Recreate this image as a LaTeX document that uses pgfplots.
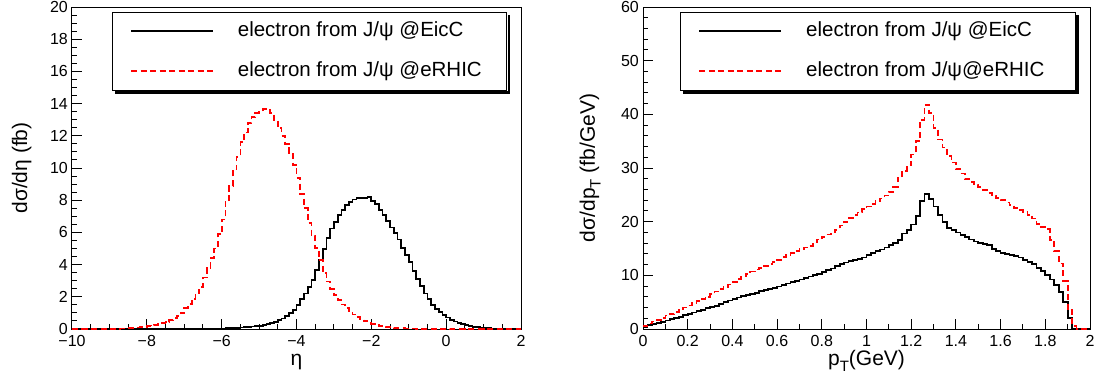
\documentclass[border=0pt]{standalone}
\usepackage{fontspec}
\setmainfont{Liberation Sans}
\usepackage{pgfplots}
\usepackage{pgfplotstable}
\pgfplotsset{compat=1.18}

\pgfplotstableread{
x y
-10.0 0.00
-9.9 0.00
-9.8 0.00
-9.7 0.00
-9.6 0.00
-9.5 0.00
-9.4 0.00
-9.3 0.00
-9.2 0.00
-9.1 0.00
-9.0 0.00
-8.9 0.00
-8.8 0.00
-8.7 0.00
-8.6 0.00
-8.5 0.00
-8.4 0.00
-8.3 0.00
-8.2 0.00
-8.1 0.00
-8.0 0.00
-7.9 0.00
-7.8 0.00
-7.7 0.00
-7.6 0.00
-7.5 0.00
-7.4 0.01
-7.3 0.01
-7.2 0.01
-7.1 0.01
-7.0 0.01
-6.9 0.01
-6.8 0.01
-6.7 0.01
-6.6 0.01
-6.5 0.01
-6.4 0.02
-6.3 0.02
-6.2 0.03
-6.1 0.03
-6.0 0.04
-5.9 0.05
-5.8 0.06
-5.7 0.07
-5.6 0.08
-5.5 0.10
-5.4 0.11
-5.3 0.13
-5.2 0.15
-5.1 0.17
-5.0 0.20
-4.9 0.25
-4.8 0.30
-4.7 0.37
-4.6 0.45
-4.5 0.55
-4.4 0.66
-4.3 0.82
-4.2 1.00
-4.1 1.20
-4.0 1.50
-3.9 1.85
-3.8 2.20
-3.7 2.60
-3.6 3.05
-3.5 3.65
-3.4 4.30
-3.3 4.95
-3.2 5.65
-3.1 6.25
-3.0 6.65
-2.9 7.10
-2.8 7.40
-2.7 7.70
-2.6 7.90
-2.5 8.05
-2.4 8.12
-2.3 8.15
-2.2 8.15
-2.1 8.22
-2.0 7.95
-1.9 7.75
-1.8 7.40
-1.7 7.10
-1.6 6.70
-1.5 6.30
-1.4 5.95
-1.3 5.55
-1.2 5.05
-1.1 4.60
-1.0 4.15
-0.9 3.60
-0.8 3.10
-0.7 2.65
-0.6 2.20
-0.5 1.85
-0.4 1.50
-0.3 1.25
-0.2 1.05
-0.1 0.88
0.0 0.72
0.1 0.58
0.2 0.47
0.3 0.37
0.4 0.29
0.5 0.23
0.6 0.18
0.7 0.14
0.8 0.11
0.9 0.08
1.0 0.06
1.1 0.05
1.2 0.04
1.3 0.03
1.4 0.02
1.5 0.02
1.6 0.01
1.7 0.01
1.8 0.01
1.9 0.00
2.0 0.00
}\etaEicC

\pgfplotstableread{
x y
-10.0 0.00
-9.9 0.00
-9.8 0.00
-9.7 0.00
-9.6 0.00
-9.5 0.00
-9.4 0.00
-9.3 0.00
-9.2 0.00
-9.1 0.00
-9.0 0.00
-8.9 0.01
-8.8 0.02
-8.7 0.03
-8.6 0.04
-8.5 0.05
-8.4 0.07
-8.3 0.09
-8.2 0.11
-8.1 0.14
-8.0 0.17
-7.9 0.21
-7.8 0.26
-7.7 0.31
-7.6 0.37
-7.5 0.45
-7.4 0.55
-7.3 0.67
-7.2 0.82
-7.1 1.00
-7.0 1.30
-6.9 1.55
-6.8 1.85
-6.7 2.20
-6.6 2.60
-6.5 3.20
-6.4 3.80
-6.3 4.40
-6.2 5.00
-6.1 5.90
-6.0 6.80
-5.9 7.90
-5.8 8.90
-5.7 9.90
-5.6 10.70
-5.5 11.60
-5.4 12.20
-5.3 12.80
-5.2 13.15
-5.1 13.40
-5.0 13.50
-4.9 13.65
-4.8 13.60
-4.7 13.40
-4.6 13.00
-4.5 12.50
-4.4 12.00
-4.3 11.50
-4.2 10.95
-4.1 10.20
-4.0 9.40
-3.9 8.40
-3.8 7.50
-3.7 6.60
-3.6 5.80
-3.5 5.05
-3.4 4.30
-3.3 3.50
-3.2 2.95
-3.1 2.50
-3.0 2.10
-2.9 1.80
-2.8 1.52
-2.7 1.30
-2.6 1.10
-2.5 0.90
-2.4 0.74
-2.3 0.60
-2.2 0.48
-2.1 0.40
-2.0 0.32
-1.9 0.26
-1.8 0.20
-1.7 0.16
-1.6 0.12
-1.5 0.10
-1.4 0.08
-1.3 0.06
-1.2 0.05
-1.1 0.04
-1.0 0.03
-0.9 0.03
-0.8 0.02
-0.7 0.01
-0.6 0.01
-0.5 0.01
-0.4 0.01
-0.3 0.01
-0.2 0.01
-0.1 0.01
0.0 0.01
0.1 0.00
0.2 0.00
0.3 0.00
0.4 0.00
0.5 0.00
0.6 0.00
0.7 0.00
0.8 0.00
0.9 0.00
1.0 0.00
1.1 0.00
1.2 0.00
1.3 0.00
1.4 0.00
1.5 0.00
1.6 0.00
1.7 0.00
1.8 0.00
1.9 0.00
2.0 0.00
}\etaeRHIC

\pgfplotstableread{
x y
0.00 0.4
0.02 0.7
0.04 0.9
0.06 1.15
0.08 1.35
0.10 1.6
0.12 1.8
0.14 2.05
0.16 2.3
0.18 2.6
0.20 2.85
0.22 3.1
0.24 3.35
0.26 3.6
0.28 3.85
0.30 4.1
0.32 4.35
0.34 4.7
0.36 5.0
0.38 5.3
0.40 5.6
0.42 5.85
0.44 6.1
0.46 6.35
0.48 6.5
0.50 6.75
0.52 7.05
0.54 7.3
0.56 7.5
0.58 7.6
0.60 7.9
0.62 8.25
0.64 8.5
0.66 8.7
0.68 8.95
0.70 9.2
0.72 9.5
0.74 9.8
0.76 10.0
0.78 10.3
0.80 10.6
0.82 10.95
0.84 11.3
0.86 11.7
0.88 12.05
0.90 12.4
0.92 12.7
0.94 12.85
0.96 13.1
0.98 13.3
1.00 13.8
1.02 14.2
1.04 14.5
1.06 14.8
1.08 15.2
1.10 15.6
1.12 16.0
1.14 16.6
1.16 17.8
1.18 18.5
1.20 19.5
1.22 21.0
1.24 23.8
1.26 25.2
1.28 24.2
1.30 22.8
1.32 21.3
1.34 20.0
1.36 18.8
1.38 18.4
1.40 18.0
1.42 17.5
1.44 17.1
1.46 16.7
1.48 16.3
1.50 16.0
1.52 15.8
1.54 15.6
1.56 14.9
1.58 14.5
1.60 14.2
1.62 14.0
1.64 13.8
1.66 13.6
1.68 13.3
1.70 12.9
1.72 12.5
1.74 12.1
1.76 11.4
1.78 10.8
1.80 10.0
1.82 9.2
1.84 8.2
1.86 6.9
1.88 5.0
1.90 2.0
1.92 0.0
1.94 0.0
1.96 0.0
1.98 0.0
2.00 0.0
}\ptEicC

\pgfplotstableread{
x y
0.00 0.5
0.02 1.0
0.04 1.4
0.06 1.7
0.08 2.1
0.10 2.5
0.12 2.8
0.14 3.2
0.16 3.6
0.18 4.0
0.20 4.4
0.22 4.8
0.24 5.2
0.26 5.6
0.28 6.0
0.30 6.5
0.32 7.0
0.34 7.4
0.36 7.8
0.38 8.3
0.40 8.8
0.42 9.3
0.44 9.8
0.46 10.3
0.48 10.7
0.50 11.1
0.52 11.4
0.54 11.8
0.56 12.1
0.58 12.5
0.60 12.9
0.62 13.4
0.64 13.8
0.66 14.1
0.68 14.5
0.70 14.9
0.72 15.2
0.74 15.5
0.76 16.1
0.78 16.7
0.80 17.2
0.82 17.6
0.84 18.0
0.86 18.5
0.88 19.3
0.90 20.0
0.92 20.7
0.94 21.2
0.96 21.7
0.98 22.3
1.00 22.8
1.02 23.3
1.04 23.8
1.06 24.3
1.08 24.9
1.10 25.5
1.12 26.5
1.14 28.2
1.16 29.5
1.18 30.5
1.20 32.5
1.22 35.0
1.24 39.0
1.26 41.8
1.28 40.3
1.30 37.5
1.32 35.3
1.34 33.8
1.36 32.2
1.38 31.0
1.40 29.8
1.42 29.0
1.44 28.0
1.46 27.4
1.48 26.9
1.50 26.4
1.52 25.9
1.54 25.4
1.56 24.9
1.58 24.4
1.60 24.0
1.62 23.6
1.64 23.1
1.66 22.6
1.68 22.2
1.70 21.8
1.72 21.3
1.74 20.6
1.76 19.6
1.78 19.0
1.80 18.6
1.82 16.6
1.84 14.5
1.86 12.2
1.88 9.0
1.90 3.5
1.92 0.5
1.94 0.0
1.96 0.0
1.98 0.0
2.00 0.0
}\pteRHIC

\pgfplotsset{
  rootstyle/.style={
    scale only axis,
    enlargelimits=false,
    axis line style={line width=1pt},
    tick style={line width=1pt, black},
    major tick length=10pt,
    minor tick length=5pt,
    tick align=inside,
    xtick pos=bottom,
    ytick pos=left,
    ticklabel style={font=\fontsize{16}{18}\selectfont},
    xticklabel style={inner sep=0pt, yshift=-6pt},
    yticklabel style={inner sep=0pt, xshift=-4pt},
    label style={font=\fontsize{21}{24}\selectfont},
    legend image code/.code={\draw[##1] (0pt,0pt) -- (82pt,0pt);},
    legend cell align=left,
    legend style={
      anchor=north west, draw=black, line width=1pt, fill=white,
      inner xsep=18pt, inner ysep=9pt, row sep=20pt, column sep=24pt,
      font=\fontsize{20.5}{24}\selectfont,
      nodes={inner sep=0pt, text height=15pt, text depth=5pt}
    },
  },
  eicc/.style={const plot, black, line width=1.7pt},
  erhic/.style={const plot, red, line width=1.7pt, dash pattern=on 6pt off 3.5pt},
}

\begin{document}
\begin{tikzpicture}
\path[use as bounding box] (0,0) rectangle (1098pt,381pt);

\begin{axis}[rootstyle,
  at={(72pt,52pt)}, anchor=south west,
  width=449pt, height=322pt,
  xmin=-10, xmax=2, ymin=0, ymax=20,
  xtick={-10,-8,-6,-4,-2,0,2},
  xticklabels={−10,−8,−6,−4,−2,0,2},
  ytick={0,2,4,6,8,10,12,14,16,18,20},
  yticklabels={0,2,4,6,8,10,12,14,16,18,20},
  minor x tick num=3, minor y tick num=3,
  xlabel={η},
  ylabel={dσ/dη (fb)},
  xlabel style={at={(axis description cs:0.5,-0.1149)}, anchor=base},
  ylabel style={at={(axis description cs:-0.1002,0.5)}, anchor=base},
  legend style={at={(axis description cs:0.0884,0.9854)}, name=legL},
]
\addplot[eicc] table[x=x,y=y] {\etaEicC};
\addlegendentry{\makebox[251pt][l]{electron from J/ψ @EicC}}
\addplot[erhic] table[x=x,y=y] {\etaeRHIC};
\addlegendentry{\makebox[251pt][l]{electron from J/ψ @eRHIC}}
\end{axis}
\fill[black] ([xshift=3pt,yshift=-3pt]legL.north east) rectangle ([xshift=0.4pt]legL.south east);
\fill[black] ([xshift=3pt,yshift=-0.4pt]legL.south west) rectangle ([xshift=3pt,yshift=-3pt]legL.south east);

\begin{axis}[rootstyle,
  at={(643pt,52pt)}, anchor=south west,
  width=447pt, height=322pt,
  xmin=0, xmax=2, ymin=0, ymax=60,
  xtick={0,0.2,0.4,0.6,0.8,1.0,1.2,1.4,1.6,1.8,2.0},
  xticklabels={0,0.2,0.4,0.6,0.8,1,1.2,1.4,1.6,1.8,2},
  ytick={0,10,20,30,40,50,60},
  yticklabels={0,10,20,30,40,50,60},
  minor x tick num=1, minor y tick num=4,
  xlabel={p\raisebox{-0.5ex}{\fontsize{15}{15}\selectfont T}(GeV)},
  ylabel={dσ/dp\raisebox{-0.5ex}{\fontsize{15}{15}\selectfont T} (fb/GeV)},
  xlabel style={at={(axis description cs:0.5,-0.1149)}, anchor=base},
  ylabel style={at={(axis description cs:-0.1074,0.5)}, anchor=base},
  legend style={at={(axis description cs:0.0828,0.9854)}, name=legR},
]
\addplot[eicc] table[x=x,y=y] {\ptEicC};
\addlegendentry{\makebox[251pt][l]{electron from J/ψ @EicC}}
\addplot[erhic] table[x=x,y=y] {\pteRHIC};
\addlegendentry{\makebox[251pt][l]{electron from J/ψ@eRHIC}}
\end{axis}
\fill[black] ([xshift=3pt,yshift=-3pt]legR.north east) rectangle ([xshift=0.4pt]legR.south east);
\fill[black] ([xshift=3pt,yshift=-0.4pt]legR.south west) rectangle ([xshift=3pt,yshift=-3pt]legR.south east);
\end{tikzpicture}
\end{document}
